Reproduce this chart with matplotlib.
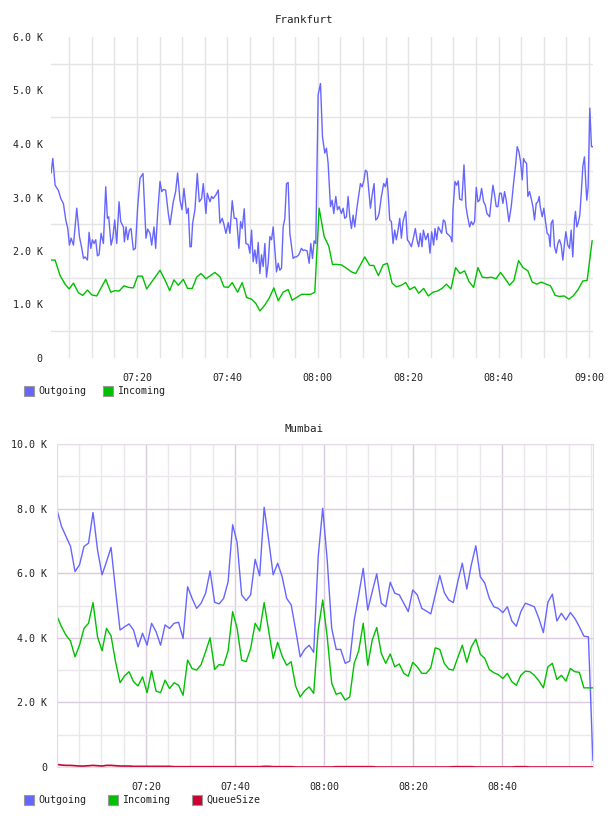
import numpy as np
import matplotlib
matplotlib.use('Agg')
import matplotlib.pyplot as plt
from matplotlib.patches import Rectangle
from matplotlib.ticker import MultipleLocator, FuncFormatter

# Frankfurt - Outgoing (minutes after 07:00, value in K)
fra_out_min = [1.00, 1.37, 1.88, 2.62, 3.14, 3.73, 4.24, 4.68, 5.05, 5.42,
               5.94, 6.67, 7.26, 7.78, 8.15, 8.51, 9.03, 9.40, 9.77, 10.13,
               10.50, 10.87, 11.24, 11.61, 12.05, 12.57, 13.08, 13.45, 13.74, 14.26,
               14.63, 15.07, 15.51, 16.03, 16.40, 16.99, 17.21, 17.57, 17.94, 18.31,
               18.68, 19.19, 19.64, 20.15, 20.67, 21.33, 21.99, 22.36, 22.88, 23.25,
               23.76, 24.13, 24.57, 25.09, 25.46, 25.83, 26.34, 26.93, 27.30, 28.03,
               28.55, 28.99, 29.51, 29.95, 30.39, 30.98, 31.35, 31.72, 32.01, 32.31,
               32.82, 33.34, 33.78, 34.30, 34.66, 35.25, 35.55, 36.14, 36.51, 36.87,
               37.46, 37.98, 38.35, 38.86, 39.23, 39.67, 40.19, 40.56, 41.07, 41.52,
               42.03, 42.55, 42.92, 43.28, 43.73, 44.09, 44.61, 44.98, 45.35, 45.71,
               46.08, 46.45, 46.82, 47.19, 47.56, 47.92, 48.29, 48.66, 49.03, 49.40,
               49.77, 50.13, 50.50, 50.87, 51.24, 51.61, 51.98, 52.34, 52.71, 53.08,
               53.45, 53.82, 54.26, 54.55, 54.92, 55.29, 55.80, 56.39, 56.76, 57.13,
               57.65, 58.09, 58.46, 58.83, 59.19, 59.56, 60.08, 60.60, 61.04, 61.55,
               61.92, 62.29, 62.81, 63.18, 63.54, 63.99, 64.35, 64.72, 65.24, 65.61,
               65.97, 66.34, 66.71, 67.08, 67.45, 67.82, 68.18, 68.70, 69.44, 69.81,
               70.17, 70.54, 70.91, 71.28, 71.65, 72.09, 72.46, 72.82, 73.19, 73.56,
               74.08, 74.59, 74.96, 75.33, 75.62, 75.92, 76.29, 76.66, 77.02, 77.39,
               77.76, 78.13, 78.50, 78.87, 79.46, 79.82, 80.19, 80.71, 81.22, 81.59,
               81.96, 82.33, 82.70, 83.06, 83.36, 83.88, 84.39, 84.83, 85.20, 85.64,
               85.94, 86.31, 86.67, 87.04, 87.41, 87.78, 88.15, 88.52, 88.96, 89.40,
               89.70, 89.92, 90.36, 90.73, 91.10, 91.39, 91.90, 92.35, 92.79, 93.16,
               93.60, 93.97, 94.34, 94.70, 95.07, 95.44, 95.81, 96.25, 96.69, 97.06,
               97.43, 97.72, 98.02, 98.39, 98.76, 99.12, 99.49, 99.86, 100.23, 100.60,
               100.97, 101.33, 101.70, 102.29, 102.81, 103.32, 103.77, 104.13, 104.50, 104.87,
               105.24, 105.53, 105.83, 106.20, 106.49, 106.86, 107.23, 107.60, 107.96, 108.33,
               108.70, 109.00, 109.22, 109.66, 110.03, 110.39, 110.76, 111.13, 111.43, 111.65,
               112.01, 112.38, 112.75, 113.12, 113.49, 113.86, 114.23, 114.59, 114.89, 115.33,
               115.70, 116.07, 116.43, 116.80, 117.02, 117.32, 117.61, 117.98, 118.28, 118.65,
               119.01, 119.31, 119.53, 119.82, 120.19, 120.56, 120.86]
fra_out_k = [3.46, 3.73, 3.23, 3.13, 2.98, 2.88, 2.58, 2.42, 2.11, 2.24,
             2.11, 2.80, 2.27, 2.05, 1.86, 1.89, 1.83, 2.35, 2.05, 2.21,
             2.14, 2.21, 1.91, 1.93, 2.33, 2.14, 3.20, 2.61, 2.64, 2.11,
             2.24, 2.58, 2.14, 2.92, 2.55, 2.45, 2.17, 2.45, 2.21, 2.39,
             2.42, 2.02, 2.05, 2.83, 3.36, 3.45, 2.24, 2.41, 2.33, 2.11,
             2.45, 2.05, 2.70, 3.30, 3.11, 3.15, 3.14, 2.70, 2.49, 2.92,
             3.11, 3.46, 2.95, 2.77, 3.17, 2.70, 2.80, 2.08, 2.08, 2.52,
             2.77, 3.45, 2.92, 2.98, 3.26, 2.70, 3.08, 2.92, 3.02, 2.98,
             3.05, 3.14, 2.52, 2.61, 2.50, 2.33, 2.53, 2.33, 2.94, 2.61,
             2.61, 2.05, 2.55, 2.42, 2.79, 2.14, 2.12, 1.96, 2.39, 1.80,
             2.02, 1.77, 2.16, 1.58, 1.93, 1.71, 2.14, 1.51, 1.77, 2.27,
             2.21, 2.45, 2.02, 1.61, 1.77, 1.64, 1.68, 2.45, 2.61, 3.26,
             3.28, 2.33, 2.05, 1.86, 1.89, 1.89, 1.93, 2.05, 2.01, 2.02,
             2.00, 1.77, 2.14, 1.86, 2.19, 2.14, 4.92, 5.13, 4.14, 3.83,
             3.92, 3.64, 2.83, 2.95, 2.70, 3.02, 2.77, 2.83, 2.70, 2.80,
             2.61, 2.64, 3.02, 2.64, 2.42, 2.67, 2.45, 2.83, 3.26, 3.20,
             3.30, 3.51, 3.48, 3.14, 2.80, 3.08, 3.26, 2.58, 2.61, 2.70,
             3.02, 3.26, 3.20, 3.36, 3.02, 2.58, 2.55, 2.14, 2.39, 2.21,
             2.39, 2.61, 2.24, 2.55, 2.74, 2.21, 2.17, 2.08, 2.27, 2.42,
             2.21, 2.08, 2.33, 2.08, 2.39, 2.21, 2.33, 1.96, 2.36, 2.11,
             2.42, 2.21, 2.45, 2.39, 2.33, 2.58, 2.55, 2.33, 2.30, 2.26,
             2.17, 2.77, 3.30, 3.23, 3.31, 2.97, 2.95, 3.61, 2.83, 2.64,
             2.45, 2.55, 2.49, 2.55, 3.19, 2.92, 2.95, 3.17, 2.92, 2.86,
             2.70, 2.67, 2.64, 2.95, 3.23, 3.05, 2.83, 2.83, 3.08, 3.08,
             2.89, 3.11, 2.95, 2.55, 2.83, 3.26, 3.61, 3.95, 3.86, 3.67,
             3.33, 3.73, 3.67, 3.64, 3.02, 3.11, 2.98, 2.83, 2.58, 2.89,
             2.92, 3.02, 2.83, 2.64, 2.80, 2.55, 2.33, 2.30, 2.08, 2.52,
             2.58, 2.08, 1.96, 2.14, 2.21, 2.11, 1.83, 2.14, 2.36, 2.11,
             2.05, 2.39, 1.89, 2.58, 2.74, 2.45, 2.52, 2.67, 3.05, 3.58,
             3.76, 3.26, 2.95, 3.20, 4.67, 3.95, 3.95]

# Frankfurt - Incoming
fra_in_min = [1.00, 1.88, 2.99, 4.09, 4.98, 5.94, 7.04, 8.00, 9.03, 9.99,
              11.09, 13.08, 14.19, 15.14, 16.03, 17.13, 18.09, 19.19, 20.15, 21.18,
              22.14, 25.09, 26.34, 27.23, 28.18, 29.14, 30.24, 31.20, 32.23, 33.19,
              34.15, 35.25, 37.24, 38.35, 39.23, 40.19, 41.07, 42.25, 43.28, 44.24,
              45.35, 46.30, 47.19, 48.29, 49.25, 50.28, 51.24, 52.34, 53.45, 54.33,
              55.29, 56.39, 57.50, 58.46, 59.34, 60.30, 61.41, 62.44, 63.25, 64.28,
              65.24, 66.34, 67.45, 68.41, 69.44, 70.39, 71.50, 72.38, 73.41, 74.45,
              75.40, 76.44, 77.39, 78.50, 79.46, 80.34, 81.44, 82.33, 83.43, 84.47,
              85.50, 86.45, 87.48, 88.44, 89.47, 90.50, 91.46, 92.49, 93.45, 94.48,
              95.44, 96.40, 97.43, 98.39, 99.42, 100.45, 101.48, 102.44, 103.40, 104.43,
              105.39, 106.49, 107.45, 108.48, 109.44, 110.54, 111.50, 112.53, 113.49, 114.52,
              115.55, 116.51, 117.54, 118.65, 119.60, 120.71]
fra_in_k = [1.83, 1.83, 1.54, 1.38, 1.29, 1.40, 1.22, 1.17, 1.27, 1.18,
            1.16, 1.47, 1.23, 1.26, 1.25, 1.35, 1.32, 1.31, 1.53, 1.53,
            1.29, 1.64, 1.43, 1.26, 1.46, 1.36, 1.47, 1.30, 1.30, 1.51,
            1.58, 1.48, 1.60, 1.52, 1.33, 1.32, 1.41, 1.23, 1.41, 1.13,
            1.10, 1.02, 0.88, 0.99, 1.12, 1.31, 1.07, 1.23, 1.28, 1.08,
            1.13, 1.19, 1.19, 1.19, 1.23, 2.80, 2.27, 2.09, 1.75, 1.75,
            1.74, 1.68, 1.61, 1.58, 1.74, 1.89, 1.73, 1.73, 1.54, 1.74,
            1.77, 1.40, 1.33, 1.36, 1.41, 1.28, 1.33, 1.21, 1.30, 1.16,
            1.23, 1.25, 1.30, 1.38, 1.29, 1.69, 1.58, 1.63, 1.43, 1.32,
            1.69, 1.51, 1.50, 1.51, 1.48, 1.60, 1.48, 1.36, 1.45, 1.82,
            1.69, 1.63, 1.42, 1.38, 1.42, 1.38, 1.35, 1.17, 1.15, 1.16,
            1.10, 1.16, 1.27, 1.44, 1.45, 2.19]

# Mumbai - one sample per minute from 07:00 (values in K)
mum_out_k = [7.96, 7.45, 7.14, 6.83, 6.05, 6.26, 6.83, 6.93, 7.88, 6.72,
             5.95, 6.36, 6.80, 5.48, 4.24, 4.34, 4.43, 4.24, 3.72, 4.14,
             3.77, 4.45, 4.19, 3.77, 4.40, 4.29, 4.45, 4.48, 3.98, 5.58,
             5.22, 4.91, 5.07, 5.38, 6.07, 5.10, 5.05, 5.22, 5.74, 7.50,
             6.95, 5.33, 5.15, 5.33, 6.43, 5.92, 8.04, 7.03, 5.95, 6.31,
             5.89, 5.22, 5.02, 4.24, 3.41, 3.64, 3.77, 3.55, 6.51, 8.01,
             6.41, 4.29, 3.64, 3.64, 3.21, 3.28, 4.55, 5.33, 6.15, 4.86,
             5.43, 5.98, 5.07, 4.96, 5.72, 5.38, 5.33, 5.07, 4.81, 5.48,
             5.33, 4.91, 4.83, 4.74, 5.33, 5.93, 5.40, 5.17, 5.09, 5.74,
             6.31, 5.51, 6.26, 6.85, 5.89, 5.69, 5.22, 4.96, 4.91, 4.78,
             4.96, 4.52, 4.36, 4.81, 5.07, 5.02, 4.96, 4.60, 4.16, 5.10,
             5.35, 4.52, 4.76, 4.55, 4.78, 4.60, 4.34, 4.05, 4.03, 0.21]
mum_in_k = [4.67, 4.34, 4.08, 3.90, 3.41, 3.77, 4.29, 4.45, 5.09, 4.03,
            3.60, 4.29, 4.06, 3.26, 2.61, 2.82, 2.95, 2.64, 2.51, 2.79,
            2.30, 2.98, 2.35, 2.30, 2.69, 2.43, 2.61, 2.53, 2.22, 3.31,
            3.05, 3.00, 3.17, 3.57, 4.00, 3.02, 3.17, 3.15, 3.60, 4.81,
            4.29, 3.31, 3.26, 3.67, 4.45, 4.21, 5.09, 4.22, 3.36, 3.86,
            3.43, 3.15, 3.26, 2.50, 2.17, 2.36, 2.48, 2.28, 4.24, 5.17,
            4.03, 2.59, 2.25, 2.30, 2.07, 2.17, 3.21, 3.60, 4.45, 3.15,
            3.93, 4.32, 3.52, 3.21, 3.50, 3.10, 3.19, 2.90, 2.81, 3.24,
            3.10, 2.90, 2.90, 3.07, 3.69, 3.64, 3.21, 3.03, 3.00, 3.39,
            3.77, 3.24, 3.72, 3.96, 3.49, 3.36, 3.02, 2.92, 2.86, 2.74,
            2.90, 2.64, 2.53, 2.84, 2.97, 2.95, 2.84, 2.67, 2.45, 3.10,
            3.21, 2.71, 2.84, 2.66, 3.05, 2.95, 2.93, 2.45, 2.45, 2.45]
mum_queue_k = [0.08, 0.06, 0.05, 0.05, 0.04, 0.03, 0.03, 0.04, 0.05, 0.04,
               0.03, 0.05, 0.05, 0.04, 0.03, 0.03, 0.03, 0.02, 0.02, 0.02,
               0.02, 0.02, 0.02, 0.02, 0.02, 0.02, 0.01, 0.01, 0.01, 0.01,
               0.01, 0.01, 0.01, 0.01, 0.01, 0.01, 0.01, 0.01, 0.01, 0.01,
               0.01, 0.01, 0.01, 0.01, 0.01, 0.01, 0.02, 0.02, 0.01, 0.01,
               0.01, 0.01, 0.01, 0.00, 0.00, 0.00, 0.00, 0.00, 0.00, 0.00,
               0.00, 0.00, 0.01, 0.01, 0.01, 0.01, 0.01, 0.01, 0.01, 0.01,
               0.01, 0.00, 0.00, 0.00, 0.00, 0.00, 0.00, 0.00, 0.00, 0.00,
               0.00, 0.00, 0.00, 0.00, 0.00, 0.00, 0.00, 0.00, 0.01, 0.01,
               0.01, 0.01, 0.01, 0.00, 0.00, 0.00, 0.00, 0.00, 0.00, 0.00,
               0.00, 0.00, 0.01, 0.01, 0.01, 0.00, 0.00, 0.00, 0.00, 0.00,
               0.00, 0.00, 0.00, 0.00, 0.00, 0.00, 0.00, 0.00, 0.00, 0.00]
mum_step_min = 1.012

fra_ylabels = ['0', '1.0 K', '2.0 K', '3.0 K', '4.0 K', '5.0 K', '6.0 K']
mum_ylabels = ['0', '2.0 K', '4.0 K', '6.0 K', '8.0 K', '10.0 K']

BLUE = '#6666ff'
GREEN = '#00c000'
RED = '#cc0033'
FONT = 'DejaVu Sans Mono'
TXT = '#222222'

plt.rcParams['font.family'] = FONT
W, H = 608, 816
fig = plt.figure(figsize=(W / 100, H / 100), dpi=100)


def px_axes(l, t, r, b):
    return fig.add_axes([l / W, 1 - b / H, (r - l) / W, (b - t) / H])


def hhmm(v, pos):
    m = int(round(v))
    return '%02d:%02d' % (7 + m // 60, m % 60)


def legend(y, items):
    for x, col, label in items:
        fig.add_artist(Rectangle((x / W, 1 - (y + 5) / H), 10 / W, 10 / H,
                                 transform=fig.transFigure, facecolor=col,
                                 edgecolor='#999999', lw=0.8))
        fig.text((x + 14) / W, 1 - y / H, label, fontsize=7.2, color=TXT,
                 va='center', ha='left')


# ---- Frankfurt ----
ax1 = px_axes(51, 37, 593, 358)
ax1.plot(fra_out_min, fra_out_k, color=BLUE, lw=1.0)
ax1.plot(fra_in_min, fra_in_k, color=GREEN, lw=1.0)
ax1.set_xlim(0.97, 120.9)
ax1.set_ylim(0, 6)
ax1.set_yticks(range(7))
ax1.set_yticklabels(fra_ylabels)
ax1.yaxis.set_minor_locator(MultipleLocator(0.5))
ax1.set_xticks(range(20, 121, 20))
ax1.xaxis.set_major_formatter(FuncFormatter(hhmm))
ax1.xaxis.set_minor_locator(MultipleLocator(5))
ax1.xaxis.grid(True, which='both', color='#e4e4e4', lw=1)
ax1.yaxis.grid(True, which='minor', color='#e4e4e4', lw=1)
ax1.set_axisbelow(True)
for s in ax1.spines.values():
    s.set_visible(False)
ax1.tick_params(which='both', length=0, labelsize=7.2, labelcolor=TXT)
ax1.tick_params(axis='x', pad=11)
ax1.tick_params(axis='y', pad=6)
fig.text(0.5, 1 - 20 / H, 'Frankfurt', ha='center', va='center', fontsize=7.8, color=TXT)
legend(391, [(24, BLUE, 'Outgoing'), (103, GREEN, 'Incoming')])

# ---- Mumbai ----
mum_min = np.arange(len(mum_out_k)) * mum_step_min
ax2 = px_axes(57, 444, 593, 767)
ax2.plot(mum_min, mum_out_k, color=BLUE, lw=1.0)
ax2.plot(mum_min, mum_in_k, color=GREEN, lw=1.0)
ax2.plot(mum_min, mum_queue_k, color=RED, lw=1.2)
ax2.set_xlim(0, 120.45)
ax2.set_ylim(0, 10)
ax2.set_yticks(range(0, 11, 2))
ax2.set_yticklabels(mum_ylabels)
ax2.yaxis.set_minor_locator(MultipleLocator(1))
ax2.set_xticks(range(20, 101, 20))
ax2.xaxis.set_major_formatter(FuncFormatter(hhmm))
ax2.xaxis.set_minor_locator(MultipleLocator(5))
ax2.grid(True, which='major', color='#dacbdf', lw=1)
ax2.grid(True, which='minor', color='#ebe7ec', lw=1)
ax2.set_axisbelow(True)
for s in ax2.spines.values():
    s.set_color('#e8dbea')
ax2.tick_params(which='both', length=0, labelsize=7.2, labelcolor=TXT)
ax2.tick_params(axis='x', pad=11)
ax2.tick_params(axis='y', pad=7)
fig.text(0.5, 1 - 429 / H, 'Mumbai', ha='center', va='center', fontsize=7.8, color=TXT)
legend(800, [(24, BLUE, 'Outgoing'), (108, GREEN, 'Incoming'), (192, RED, 'QueueSize')])

fig.savefig('out.png', dpi=100)
